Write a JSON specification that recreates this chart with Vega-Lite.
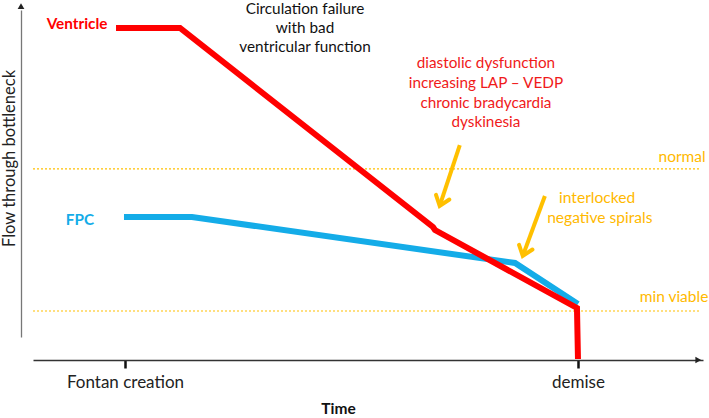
{
  "$schema": "https://vega.github.io/schema/vega-lite/v6.json",
  "width": 670,
  "height": 327,
  "autosize": {"type": "none"},
  "padding": {"left": 33, "top": 10, "right": 6, "bottom": 81},
  "background": "white",
  "config": {"view": {"stroke": null}, "font": "Lato"},
  "datasets": {
    "ventricle": [
      {"i": 1, "t": 12.39, "f": 94.5},
      {"i": 2, "t": 21.94, "f": 94.5},
      {"i": 3, "t": 59.7, "f": 33.64},
      {"i": 4, "t": 60.0, "f": 32.72},
      {"i": 5, "t": 81.19, "f": 8.87},
      {"i": 6, "t": 81.34, "f": -6.73}
    ],
    "fpc": [
      {"i": 1, "t": 13.58, "f": 36.7},
      {"i": 2, "t": 23.73, "f": 36.7},
      {"i": 3, "t": 71.94, "f": 22.63},
      {"i": 4, "t": 81.34, "f": 10.09}
    ],
    "levels": [
      {"level": "normal", "t": 0, "t2": 99.6, "f": 51.4},
      {"level": "min viable", "t": 0, "t2": 99.6, "f": 7.95}
    ],
    "arrows": [
      {"t": 63.7, "f": 58.7, "t2": 60.7, "f2": 40.1},
      {"t": 76.4, "f": 43.1, "t2": 73.1, "f2": 24.8}
    ],
    "blackNotes": [
      {"text": "Circulation failure", "t": 40.6, "f": 100.3},
      {"text": "with bad", "t": 40.6, "f": 94.6},
      {"text": "ventricular function", "t": 40.6, "f": 88.8}
    ],
    "redNotes": [
      {"text": "diastolic dysfunction", "t": 67.6, "f": 83.8},
      {"text": "increasing LAP – VEDP", "t": 67.6, "f": 77.7},
      {"text": "chronic bradycardia", "t": 67.6, "f": 71.6},
      {"text": "dyskinesia", "t": 67.6, "f": 65.7}
    ],
    "goldCenter": [
      {"text": "interlocked", "t": 84.2, "f": 42.5},
      {"text": "negative spirals", "t": 84.6, "f": 36.4}
    ],
    "goldRight": [
      {"text": "normal", "t": 100.4, "f": 55.0},
      {"text": "min viable", "t": 100.8, "f": 12.2}
    ]
  },
  "layer": [
    {
      "data": {"name": "levels"},
      "mark": {"type": "rule", "color": "#FFC000", "strokeWidth": 1.2, "strokeDash": [2, 2]},
      "encoding": {
        "x": {
          "field": "t", "type": "quantitative",
          "scale": {"domain": [0, 100], "nice": false, "zero": false},
          "axis": {
            "title": "Time", "titleFont": "Lato", "titleFontSize": 15.5, "titleFontWeight": "bold", "titleColor": "#111",
            "titleX": 305, "titleY": 48, "titleBaseline": "middle", "titleAnchor": "start", "titleAlign": "center",
            "offset": 23, "values": [13.73, 81.34],
            "labelExpr": "datum.value < 50 ? 'Fontan creation' : 'demise'",
            "labelFont": "Lato", "labelFontSize": 17, "labelColor": "#222", "labelPadding": 6, "labelOverlap": false,
            "labelFlush": false,
            "ticks": true, "tickSize": 8, "tickWidth": 2.5, "tickColor": "#111",
            "domainColor": "#333", "domainWidth": 1.3, "grid": false
          }
        },
        "x2": {"field": "t2"},
        "y": {
          "field": "f", "type": "quantitative",
          "scale": {"domain": [0, 100], "nice": false, "zero": false},
          "axis": {
            "title": "Flow through bottleneck", "titleFont": "Lato", "titleFontSize": 16.5, "titleFontWeight": "normal", "titleColor": "#222",
            "titleX": -11.5, "titleY": 148, "titleBaseline": "middle", "titleAngle": -90, "titleAlign": "center", "titleAnchor": "start",
            "offset": 12, "ticks": false, "labels": false, "grid": false,
            "domainColor": "#777", "domainWidth": 1.3
          }
        }
      }
    },
    {
      "data": {"name": "fpc"},
      "mark": {"type": "line", "color": "#14ACE8", "strokeWidth": 6, "strokeCap": "butt", "strokeJoin": "miter"},
      "encoding": {
        "x": {"field": "t", "type": "quantitative"},
        "y": {"field": "f", "type": "quantitative"},
        "order": {"field": "i"}
      }
    },
    {
      "data": {"name": "ventricle"},
      "mark": {"type": "line", "color": "#FF0000", "strokeWidth": 6, "strokeCap": "butt", "strokeJoin": "miter"},
      "encoding": {
        "x": {"field": "t", "type": "quantitative"},
        "y": {"field": "f", "type": "quantitative"},
        "order": {"field": "i"}
      }
    },
    {
      "data": {"name": "arrows"},
      "mark": {"type": "rule", "color": "#FFC000", "strokeWidth": 4},
      "encoding": {
        "x": {"field": "t", "type": "quantitative"},
        "y": {"field": "f", "type": "quantitative"},
        "x2": {"field": "t2"},
        "y2": {"field": "f2"}
      }
    },
    {
      "data": {"name": "arrows"},
      "mark": {"type": "point", "shape": "M-1,-1.3L0,0L1,-1.3", "filled": false, "stroke": "#FFC000", "strokeWidth": 4, "size": 200, "angle": 19, "opacity": 1, "strokeCap": "round"},
      "encoding": {
        "x": {"field": "t2", "type": "quantitative"},
        "y": {"field": "f2", "type": "quantitative"}
      }
    },
    {
      "data": {"values": [{"t": 99.3, "f": -7.03}]},
      "mark": {"type": "point", "shape": "triangle-right", "filled": true, "color": "#222", "size": 45, "opacity": 1},
      "encoding": {
        "x": {"field": "t", "type": "quantitative"},
        "y": {"field": "f", "type": "quantitative"}
      }
    },
    {
      "data": {"values": [{"t": -1.79, "f": 101.2}]},
      "mark": {"type": "point", "shape": "triangle-up", "filled": true, "color": "#222", "size": 45, "opacity": 1},
      "encoding": {
        "x": {"field": "t", "type": "quantitative"},
        "y": {"field": "f", "type": "quantitative"}
      }
    },
    {
      "data": {"name": "blackNotes"},
      "mark": {"type": "text", "font": "Lato", "fontSize": 15.3, "color": "#111", "align": "center", "baseline": "middle"},
      "encoding": {
        "x": {"field": "t", "type": "quantitative"},
        "y": {"field": "f", "type": "quantitative"},
        "text": {"field": "text"}
      }
    },
    {
      "data": {"name": "redNotes"},
      "mark": {"type": "text", "font": "Lato", "fontSize": 15.3, "color": "#F01A1A", "align": "center", "baseline": "middle"},
      "encoding": {
        "x": {"field": "t", "type": "quantitative"},
        "y": {"field": "f", "type": "quantitative"},
        "text": {"field": "text"}
      }
    },
    {
      "data": {"name": "goldCenter"},
      "mark": {"type": "text", "font": "Lato", "fontSize": 15.6, "color": "#FFB900", "align": "center", "baseline": "middle"},
      "encoding": {
        "x": {"field": "t", "type": "quantitative"},
        "y": {"field": "f", "type": "quantitative"},
        "text": {"field": "text"}
      }
    },
    {
      "data": {"name": "goldRight"},
      "mark": {"type": "text", "font": "Lato", "fontSize": 15.5, "color": "#FFB900", "align": "right", "baseline": "middle"},
      "encoding": {
        "x": {"field": "t", "type": "quantitative"},
        "y": {"field": "f", "type": "quantitative"},
        "text": {"field": "text"}
      }
    },
    {
      "data": {"values": [{"label": "Ventricle", "t": 6.57, "f": 95.7}]},
      "mark": {"type": "text", "font": "Lato", "fontSize": 15.3, "fontWeight": "bold", "color": "#FF0000", "align": "center", "baseline": "middle"},
      "encoding": {
        "x": {"field": "t", "type": "quantitative"},
        "y": {"field": "f", "type": "quantitative"},
        "text": {"field": "label"}
      }
    },
    {
      "data": {"values": [{"label": "FPC", "t": 7.01, "f": 35.8}]},
      "mark": {"type": "text", "font": "Lato", "fontSize": 15.3, "fontWeight": "bold", "color": "#14ACE8", "align": "center", "baseline": "middle"},
      "encoding": {
        "x": {"field": "t", "type": "quantitative"},
        "y": {"field": "f", "type": "quantitative"},
        "text": {"field": "label"}
      }
    }
  ]
}
